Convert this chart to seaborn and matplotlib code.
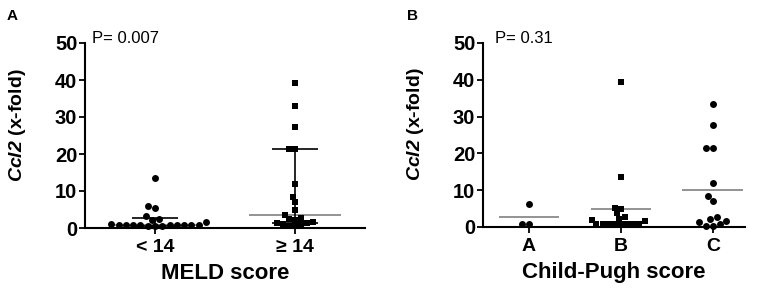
import numpy as np
import pandas as pd
import matplotlib
matplotlib.use("Agg")
import matplotlib.pyplot as plt
import matplotlib.transforms as mtransforms
import seaborn as sns

# ---------------- data ----------------
meld_categories = ["< 14", "\u2265 14"]
meld_low = [13.5, 6.0, 5.3, 3.3, 2.5, 2.2, 1.5, 1.0, 0.9, 0.9, 0.8, 0.8, 0.8, 0.8,
            0.7, 0.7, 0.7, 0.6, 0.6, 0.5]
meld_high = [39.3, 33.0, 27.3, 21.4, 21.4, 11.9, 8.5, 7.0, 4.8, 3.6, 2.7, 2.4, 2.2,
             1.6, 1.4, 1.3, 1.2, 1.1, 0.6, 0.5]
meld_median = [0.8, 3.6]
meld_q1 = [0.6, 1.3]
meld_q3 = [2.8, 21.4]
meld_p = "P= 0.007"

cp_categories = ["A", "B", "C"]
cp_a = [6.2, 0.8, 0.8]
cp_b = [39.5, 13.7, 5.2, 4.8, 3.7, 2.7, 2.2, 1.9, 1.5, 0.9, 0.8, 0.8, 0.7, 0.8,
        0.9, 0.7, 0.8]
cp_c = [33.3, 27.7, 21.6, 21.6, 12.0, 8.4, 7.1, 2.7, 2.1, 1.7, 1.3, 0.8, 0.4, 0.4]
cp_p = "P= 0.31"

yticks = [0, 10, 20, 30, 40, 50]

# ---------------- style ----------------
sns.set_theme(style="ticks")
plt.rcParams["font.family"] = ["Liberation Sans", "DejaVu Sans"]
plt.rcParams["text.color"] = "black"
plt.rcParams["axes.labelcolor"] = "black"
plt.rcParams["xtick.color"] = "black"
plt.rcParams["ytick.color"] = "black"
plt.rcParams["mathtext.fontset"] = "custom"
plt.rcParams["mathtext.rm"] = "Liberation Sans"
plt.rcParams["mathtext.it"] = "Liberation Sans:italic"
plt.rcParams["mathtext.bf"] = "Liberation Sans:bold"
try:
    plt.rcParams["mathtext.bfit"] = "Liberation Sans:italic:bold"
    ylab = r"$\mathbfit{Ccl2}$ (x-fold)"
except KeyError:
    ylab = r"$\mathbf{Ccl2}$ (x-fold)"

fig = plt.figure(figsize=(7.65, 2.9), dpi=100)
axA = fig.add_axes([85 / 765, 62 / 290, 280 / 765, 185 / 290])
axB = fig.add_axes([483 / 765, 63 / 290, 262 / 765, 184 / 290])

dfA = pd.DataFrame({
    "group": [meld_categories[0]] * len(meld_low) + [meld_categories[1]] * len(meld_high),
    "value": meld_low + meld_high,
})
dfB = pd.DataFrame({
    "group": ["A"] * len(cp_a) + ["B"] * len(cp_b) + ["C"] * len(cp_c),
    "value": cp_a + cp_b + cp_c,
})

# Panel A
sns.swarmplot(data=dfA[dfA.group == meld_categories[0]], x="group", y="value",
              order=meld_categories, color="black", marker="o", size=5.0,
              linewidth=0, ax=axA, clip_on=False)
sns.swarmplot(data=dfA[dfA.group == meld_categories[1]], x="group", y="value",
              order=meld_categories, color="black", marker="s", size=4.2,
              linewidth=0, ax=axA, clip_on=False)
for i in range(len(meld_categories)):
    axA.hlines(meld_median[i], i - 0.33, i + 0.33, color="#8a8a8a", lw=1.3, zorder=1)
    axA.hlines([meld_q1[i], meld_q3[i]], i - 0.165, i + 0.165, color="black", lw=1.2, zorder=1)
    axA.vlines(i, meld_q1[i], meld_q3[i], color="black", lw=1.2, zorder=1)

# Panel B
sns.swarmplot(data=dfB[dfB.group == "A"], x="group", y="value", order=cp_categories,
              color="black", marker="o", size=5.0, linewidth=0, ax=axB, clip_on=False)
sns.swarmplot(data=dfB[dfB.group == "B"], x="group", y="value", order=cp_categories,
              color="black", marker="s", size=4.2, linewidth=0, ax=axB, clip_on=False)
sns.swarmplot(data=dfB[dfB.group == "C"], x="group", y="value", order=cp_categories,
              color="black", marker="o", size=5.0, linewidth=0, ax=axB, clip_on=False)
for i, vals in enumerate([cp_a, cp_b, cp_c]):
    axB.hlines(np.mean(vals), i - 0.33, i + 0.33, color="#8a8a8a", lw=1.3, zorder=1)

for ax, xl, ptxt, px, lx in [(axA, "MELD score", meld_p, 0.025, -0.204),
                             (axB, "Child-Pugh score", cp_p, 0.046, -0.218)]:
    ax.set_ylim(0, 50)
    ax.set_yticks(yticks)
    ax.set_yticklabels([str(t) for t in yticks], fontsize=14.5, fontweight="bold")
    for lab in ax.get_xticklabels():
        lab.set_fontsize(14)
        lab.set_fontweight("bold")
    ax.set_xlabel(xl, fontsize=16, fontweight="bold", labelpad=5, color="black")
    ax.set_ylabel(ylab, fontsize=14, fontweight="bold", color="black")
    ax.yaxis.set_label_coords(lx, 0.557)
    sns.despine(ax=ax)
    for s in ["left", "bottom"]:
        ax.spines[s].set_linewidth(1.5)
        ax.spines[s].set_color("black")
    ax.tick_params(axis="y", direction="out", length=4, width=1.3, color="black",
                   pad=1.5, labelcolor="black")
    ax.tick_params(axis="x", direction="out", length=4, width=1.3, color="black",
                   pad=4, labelcolor="black")
    tr = mtransforms.blended_transform_factory(ax.transAxes, ax.transData)
    ax.text(px, 51.2, ptxt, transform=tr, fontsize=12, va="center", ha="left", color="black")

axA.set_xlim(-0.5, 1.5)
axB.set_xlim(-0.5, 2.35)

fig.text(12 / 765, 1 - 16 / 290, "A", fontsize=11, fontweight="bold", ha="center",
         va="center", color="black")
fig.text(412 / 765, 1 - 16 / 290, "B", fontsize=11, fontweight="bold", ha="center",
         va="center", color="black")

fig.savefig("out.png", dpi=100)
